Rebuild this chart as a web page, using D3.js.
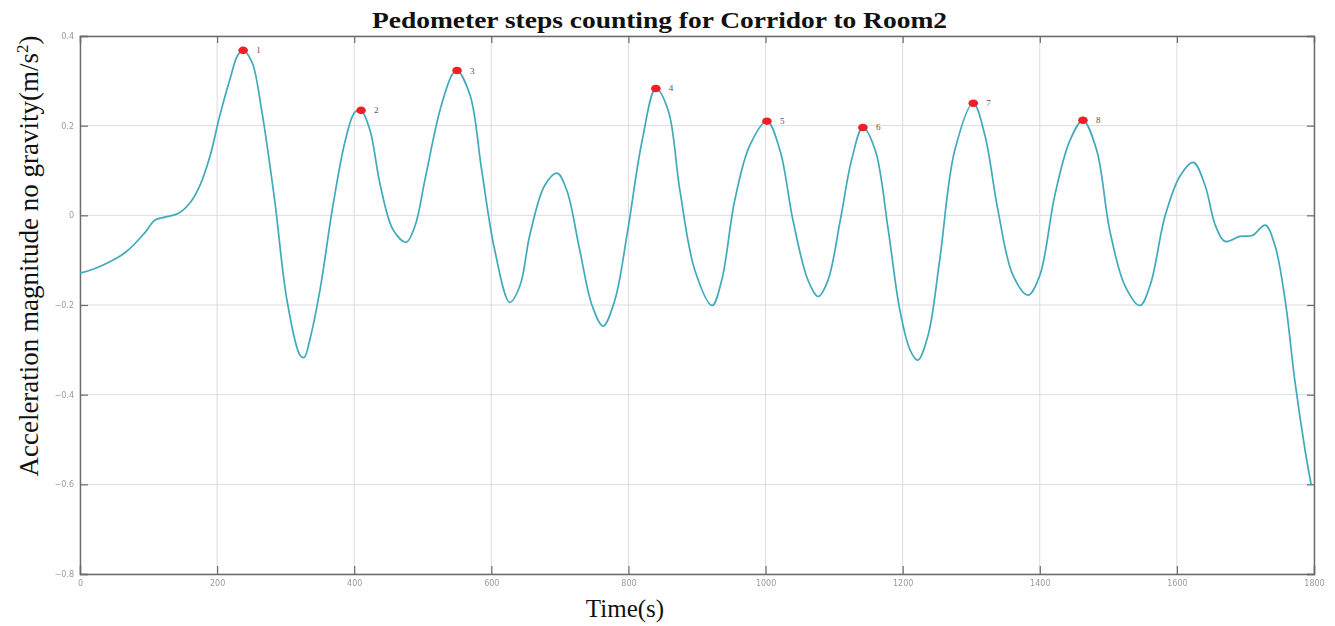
<!DOCTYPE html>
<html>
<head>
<meta charset="utf-8">
<script src="https://cdn.jsdelivr.net/npm/d3@7"></script>
<style>
  html, body { margin: 0; padding: 0; background: #fff; }
  svg { display: block; }
</style>
</head>
<body>
<svg id="chart" width="1335" height="626"></svg>
<script>
// Acceleration magnitude (gravity removed) sampled over time
const times = [0, 29, 66, 95, 109, 124, 143, 160, 175, 190, 204, 219, 230, 238, 251, 265, 284, 302, 321, 327,
  335, 350, 369, 387, 401, 410, 423, 438, 457, 476, 489, 503, 525, 543, 550, 569, 586, 605, 627, 642,
  656, 678, 696, 710, 729, 747, 763, 780, 799, 820, 840, 858, 875, 897, 922, 936, 955, 977, 1002, 1021,
  1040, 1062, 1077, 1091, 1109, 1126, 1142, 1160, 1179, 1196, 1211, 1222, 1237, 1254, 1276, 1303, 1320, 1339, 1361, 1383,
  1400, 1422, 1444, 1463, 1483, 1502, 1524, 1546, 1561, 1583, 1605, 1624, 1641, 1656, 1670, 1692, 1710, 1729, 1743, 1758,
  1772, 1787, 1796];
const accel = [-0.129, -0.114, -0.083, -0.038, -0.011, -0.004, 0.004, 0.027, 0.067, 0.134, 0.223, 0.305, 0.357, 0.368, 0.341, 0.234, 0.033, -0.190, -0.312, -0.317,
  -0.279, -0.167, 0.022, 0.167, 0.230, 0.234, 0.190, 0.067, -0.033, -0.060, -0.022, 0.078, 0.234, 0.314, 0.323, 0.268, 0.100, -0.078, -0.194, -0.156,
  -0.045, 0.067, 0.094, 0.056, -0.078, -0.201, -0.247, -0.190, -0.033, 0.167, 0.283, 0.234, 0.056, -0.123, -0.201, -0.145, 0.033, 0.156, 0.210, 0.145,
  -0.011, -0.145, -0.181, -0.145, -0.011, 0.127, 0.196, 0.145, -0.033, -0.212, -0.301, -0.323, -0.268, -0.100, 0.145, 0.250, 0.178, 0.011, -0.134, -0.178,
  -0.134, 0.045, 0.167, 0.212, 0.145, -0.033, -0.156, -0.201, -0.156, 0.000, 0.089, 0.118, 0.067, -0.022, -0.058, -0.047, -0.045, -0.022, -0.067, -0.190,
  -0.368, -0.524, -0.602];

// Detected steps (time of each counted peak)
const stepTimes = [238, 410, 550, 840, 1002, 1142, 1303, 1463];
const stepLabels = ["1", "2", "3", "4", "5", "6", "7", "8"];

// Axis ticks
const xTicks = [0, 200, 400, 600, 800, 1000, 1200, 1400, 1600, 1800];
const yTicks = [0.4, 0.2, 0, -0.2, -0.4, -0.6, -0.8];

const titleText = "Pedometer steps counting for Corridor to Room2";
const xLabel = "Time(s)";

const svg = d3.select("#chart");
const plotLeft = 80, plotRight = 1314, plotTop = 36, plotBottom = 574;

const x = d3.scaleLinear().domain([0, 1800]).range([plotLeft, plotRight]);
const y = d3.scaleLinear().domain([-0.8, 0.4]).range([plotBottom, plotTop]);

const defs = svg.append("defs");
defs.append("filter").attr("id", "soft")
  .append("feGaussianBlur").attr("stdDeviation", 0.55);

// grid
const grid = svg.append("g").attr("stroke", "#dcdcdc").attr("stroke-width", 1);
grid.selectAll("line.v").data(xTicks).join("line").attr("class", "v")
  .attr("x1", d => x(d)).attr("x2", d => x(d)).attr("y1", plotTop).attr("y2", plotBottom);
grid.selectAll("line.h").data(yTicks).join("line").attr("class", "h")
  .attr("x1", plotLeft).attr("x2", plotRight).attr("y1", d => y(d)).attr("y2", d => y(d));

// axes with inward ticks
const fmtY = d => d === 0 ? "0" : d3.format(".1f")(d);
const gx = svg.append("g").attr("transform", `translate(0,${plotBottom})`)
  .call(d3.axisBottom(x).tickValues(xTicks).tickSize(-8).tickPadding(6).tickFormat(d3.format("d")));
const gy = svg.append("g").attr("transform", `translate(${plotLeft},0)`)
  .call(d3.axisLeft(y).tickValues(yTicks).tickSize(-8).tickPadding(6).tickFormat(fmtY));
const gxt = svg.append("g").attr("transform", `translate(0,${plotTop})`)
  .call(d3.axisTop(x).tickValues(xTicks).tickSize(-7).tickFormat(""));
const gyr = svg.append("g").attr("transform", `translate(${plotRight},0)`)
  .call(d3.axisRight(y).tickValues(yTicks).tickSize(-7).tickFormat(""));

[gx, gy, gxt, gyr].forEach(g => {
  g.select(".domain").attr("stroke", "#6a6a6a").attr("stroke-width", 1.4);
  g.selectAll(".tick line").attr("stroke", "#6a6a6a").attr("stroke-width", 1.2);
  g.selectAll(".tick text")
    .attr("fill", "#9a9a9a")
    .attr("font-family", "DejaVu Sans, sans-serif")
    .attr("font-size", 8)
    .attr("filter", "url(#soft)");
});

// signal
const line = d3.line()
  .x((d, i) => x(times[i]))
  .y(d => y(d))
  .curve(d3.curveCatmullRom.alpha(0.5));
svg.append("path")
  .datum(accel)
  .attr("fill", "none")
  .attr("stroke", "#40aabb")
  .attr("stroke-width", 1.7)
  .attr("d", line);

// step markers
const steps = stepTimes.map((t, k) => ({ t, v: accel[times.indexOf(t)], label: stepLabels[k] }));
svg.append("g").selectAll("ellipse").data(steps).join("ellipse")
  .attr("cx", d => x(d.t)).attr("cy", d => y(d.v))
  .attr("rx", 4.8).attr("ry", 3.8)
  .attr("fill", "#ee1f26");
svg.append("g").selectAll("text").data(steps).join("text")
  .attr("x", d => x(d.t) + 13).attr("y", d => y(d.v) + 3)
  .attr("font-family", "Liberation Serif, serif")
  .attr("font-size", 9)
  .attr("fill", "#555")
  .text(d => d.label);

// title
svg.append("text")
  .attr("x", 372).attr("y", 28)
  .attr("font-family", "Liberation Serif, 'Times New Roman', serif")
  .attr("font-weight", "bold")
  .attr("font-size", 24)
  .attr("textLength", 575)
  .attr("lengthAdjust", "spacingAndGlyphs")
  .attr("fill", "#111")
  .text(titleText);

// axis labels
svg.append("text")
  .attr("x", 625).attr("y", 617)
  .attr("text-anchor", "middle")
  .attr("font-family", "Liberation Serif, 'Times New Roman', serif")
  .attr("font-size", 25)
  .attr("fill", "#111")
  .text(xLabel);

const yl = svg.append("text")
  .attr("transform", "translate(38,256) rotate(-90)")
  .attr("text-anchor", "middle")
  .attr("font-family", "Liberation Serif, 'Times New Roman', serif")
  .attr("font-size", 27)
  .attr("fill", "#111");
yl.append("tspan").text("Acceleration magnitude no gravity(m/s");
yl.append("tspan").attr("dy", -10).attr("font-size", 17).text("2");
yl.append("tspan").attr("dy", 10).text(")");
</script>
</body>
</html>
